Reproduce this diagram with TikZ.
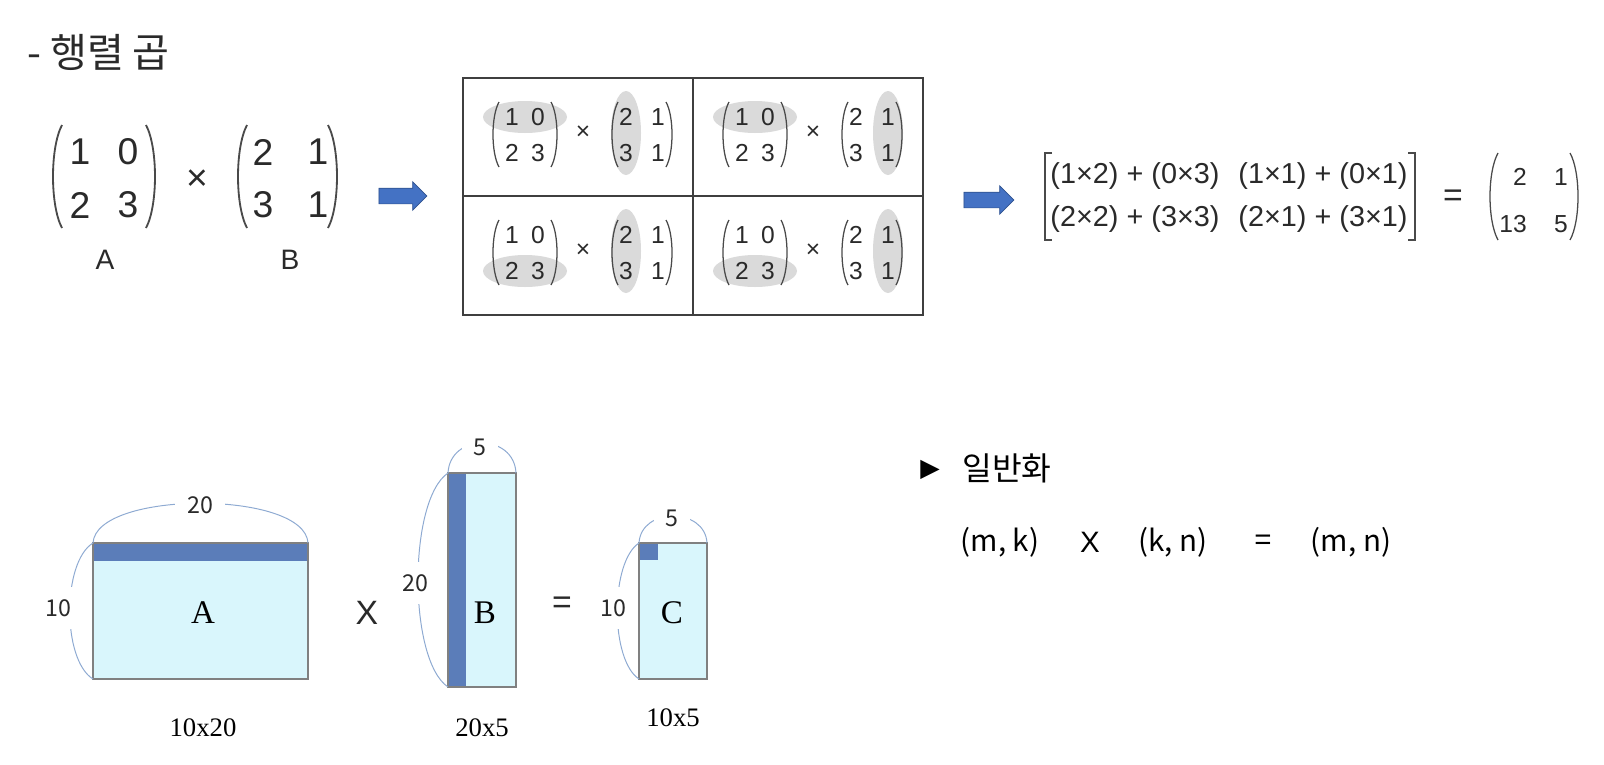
\documentclass[tikz,border=0pt]{standalone}
\usepackage{fontspec}
\setmainfont{Liberation Sans}
\newfontfamily\krfont{Noto Sans CJK KR}
\newfontfamily\tmsfont{Liberation Serif}
\newfontfamily\symfont{DejaVu Sans}
\usepackage{tikz}
\usetikzlibrary{shapes.arrows}
\definecolor{ArrBlue}{HTML}{4472C4}
\definecolor{ArrEdge}{HTML}{2F528F}
\definecolor{BarBlue}{HTML}{5B7DB9}
\definecolor{BoxCyan}{HTML}{D9F6FC}
\definecolor{ArcBlue}{HTML}{8EAAD2}
\definecolor{HiGrey}{HTML}{DADADA}
\definecolor{Ink}{HTML}{2A2A2A}
\newcommand{\fsz}[1]{\fontsize{#1}{#1}\selectfont}
\tikzset{
  ttl/.style={anchor=west,inner sep=0pt,text=Ink,font=\krfont\fsz{28.5}},
  bigd/.style={inner sep=0pt,text=Ink,font=\fsz{26.5}},
  bigl/.style={inner sep=0pt,text=Ink,font=\fsz{20}},
  celld/.style={inner sep=0pt,text=Ink,font=\fsz{17.5}},
  sumd/.style={inner sep=0pt,text=Ink,font=\fsz{20.5}},
  resd/.style={inner sep=0pt,text=Ink,anchor=east,font=\fsz{17.5}},
  paren/.style={line width=1.3pt,draw=Ink!85},
  cellparen/.style={line width=0.9pt,draw=Ink!85},
  blkarrow/.style={single arrow,draw=ArrEdge,fill=ArrBlue,line width=0.5pt,
                   inner xsep=0pt,inner ysep=0.1875cm,single arrow head extend=0.16cm},
  frame/.style={draw=Ink!90,line width=1pt},
  hilite/.style={fill=HiGrey},
  matbox/.style={fill=BoxCyan},
  boxedge/.style={draw=gray,line width=0.9pt},
  barfill/.style={fill=BarBlue},
  dimarc/.style={draw=ArcBlue,line width=0.7pt},
  dimlbl/.style={fill=white,inner sep=0.3cm,text=Ink,font=\krfont\fsz{16.5}},
  boxlbl/.style={inner sep=0pt,font=\tmsfont\fsz{23.5}},
  sizelbl/.style={inner sep=0pt,font=\tmsfont\fsz{19}},
  opsym/.style={inner sep=0pt,text=Ink,font=\fsz{24}},
  headtxt/.style={inner sep=0pt,anchor=west,font=\krfont\fsz{23}},
  gentxt/.style={inner sep=0pt,font=\krfont\fsz{21}},
  genop/.style={inner sep=0pt,font=\fsz{21}},
}
\newcommand{\roundpair}[6]{%
  \draw[#6] ({#1+#5},#3) .. controls ({#1-#5/3},{#3+0.22*(#4-#3)}) and ({#1-#5/3},{#4-0.22*(#4-#3)}) .. ({#1+#5},#4);
  \draw[#6] ({#2-#5},#3) .. controls ({#2+#5/3},{#3+0.22*(#4-#3)}) and ({#2+#5/3},{#4-0.22*(#4-#3)}) .. ({#2-#5},#4);}
\newcommand{\squarepair}[6]{%
  \draw[#6] ({#1+#5},#3) -- (#1,#3) -- (#1,#4) -- ({#1+#5},#4);
  \draw[#6] ({#2-#5},#3) -- (#2,#3) -- (#2,#4) -- ({#2-#5},#4);}
\newcommand{\prodcell}[5]{%
  \begin{scope}[shift={(#2,#3)}]
    \fill[hilite] (62,#4) ellipse [x radius=42,y radius=16];
    \fill[hilite] (#5,55) ellipse [x radius=15,y radius=42];
    \roundpair{30}{94}{24}{89}{6}{cellparen}
    \roundpair{149}{209}{24}{89}{6}{cellparen}
    \node[celld] (#1a11) at (49,39) {1};
    \node[celld] (#1a12) at (75,39) {0};
    \node[celld] (#1a21) at (49,75) {2};
    \node[celld] (#1a22) at (75,75) {3};
    \node[celld] (#1x)   at (120,55) {×};
    \node[celld] (#1b11) at (163,39) {2};
    \node[celld] (#1b12) at (195,39) {1};
    \node[celld] (#1b21) at (163,75) {3};
    \node[celld] (#1b22) at (195,75) {1};
  \end{scope}}

\begin{document}
\begin{tikzpicture}[x=0.025cm,y=-0.025cm]
  \fill[white] (0,0) rectangle (1604,764);
  \useasboundingbox (0,0) rectangle (1604,764);

  \node[ttl] (title) at (27,52) {- 행렬 곱};

  \roundpair{53}{155}{125}{228}{9}{paren}
  \node[bigd] (a11) at (80,152) {1};
  \node[bigd] (a12) at (128,152) {0};
  \node[bigd] (a21) at (80,205) {2};
  \node[bigd] (a22) at (128,205) {3};
  \node[bigd] (times) at (197,180) {×};
  \roundpair{238}{337}{125}{228}{9}{paren}
  \node[bigd] (b11) at (263,152) {2};
  \node[bigd] (b12) at (318,152) {1};
  \node[bigd] (b21) at (263,205) {3};
  \node[bigd] (b22) at (318,205) {1};
  \node[bigl] (labA) at (105,260) {A};
  \node[bigl] (labB) at (290,260) {B};
  \node[blkarrow,minimum height=1.2cm] (arr1) at (399,196) {};

  \draw[frame] (463,78) rectangle (923,315);
  \draw[frame] (693,78) -- (693,315);
  \draw[frame] (463,196) -- (923,196);
  \prodcell{tl}{463}{78}{39}{163}
  \prodcell{tr}{693}{78}{39}{195}
  \prodcell{bl}{463}{196}{75}{163}
  \prodcell{br}{693}{196}{75}{195}

  \node[blkarrow,minimum height=1.25cm] (arr2) at (985,200) {};
  \squarepair{1045}{1415}{153}{240}{7}{cellparen}
  \node[sumd] (s11) at (1135,176) {(1×2) + (0×3)};
  \node[sumd] (s12) at (1323,176) {(1×1) + (0×1)};
  \node[sumd] (s21) at (1135,219) {(2×2) + (3×3)};
  \node[sumd] (s22) at (1323,219) {(2×1) + (3×1)};
  \node[opsym] (eq1) at (1453,198) {=};
  \roundpair{1490}{1578}{153}{240}{8}{cellparen}
  \node[resd] (r11) at (1527,177) {2};
  \node[resd] (r12) at (1568,177) {1};
  \node[resd] (r21) at (1527,224) {13};
  \node[resd] (r22) at (1568,224) {5};

  \fill[matbox] (93,543) rectangle (308,679);
  \fill[barfill] (93,543) rectangle (308,561);
  \draw[boxedge] (93,543) rectangle (308,679);
  \fill[matbox] (448,473) rectangle (516,687);
  \fill[barfill] (448,473) rectangle (466,687);
  \draw[boxedge] (448,473) rectangle (516,687);
  \fill[matbox] (639,543) rectangle (707,679);
  \fill[barfill] (639,543) rectangle (658,560);
  \draw[boxedge] (639,543) rectangle (707,679);

  \draw[dimarc] (93,543) .. controls (96,490) and (305,490) .. (308,543);
  \draw[dimarc] (93,543) .. controls (62,562) and (62,660) .. (93,679);
  \draw[dimarc] (448,473) .. controls (450,433) and (514,433) .. (516,473);
  \draw[dimarc] (448,473) .. controls (408,500) and (408,660) .. (448,687);
  \draw[dimarc] (639,543) .. controls (641,507) and (705,507) .. (707,543);
  \draw[dimarc] (639,543) .. controls (610,562) and (610,660) .. (639,679);
  \node[dimlbl] (wA) at (200,505) {20};
  \node[dimlbl] (hA) at (58,608) {10};
  \node[dimlbl] (wB) at (480,447) {5};
  \node[dimlbl] (hB) at (415,583) {20};
  \node[dimlbl] (wC) at (672,518) {5};
  \node[dimlbl] (hC) at (613,608) {10};

  \node[boxlbl] (boxA) at (203,613) {A};
  \node[boxlbl] (boxB) at (485,613) {B};
  \node[boxlbl] (boxC) at (672,613) {C};
  \node[opsym] (xop) at (367,613) {X};
  \node[opsym] (eqop) at (562,605) {=};
  \node[sizelbl] (szA) at (203,728) {10x20};
  \node[sizelbl] (szB) at (482,728) {20x5};
  \node[sizelbl] (szC) at (673,718) {10x5};

  \node[inner sep=0pt,font=\symfont\fsz{18}] (bullet) at (930,470) {▶};
  \node[headtxt] (gen) at (962,468) {일반화};
  \node[gentxt] (mk) at (1000,542) {(m, k)};
  \node[genop] (gx) at (1090,542) {X};
  \node[gentxt] (kn) at (1173,542) {(k, n)};
  \node[genop] (geq) at (1263,542) {=};
  \node[gentxt] (mn) at (1351,542) {(m, n)};
\end{tikzpicture}
\end{document}
